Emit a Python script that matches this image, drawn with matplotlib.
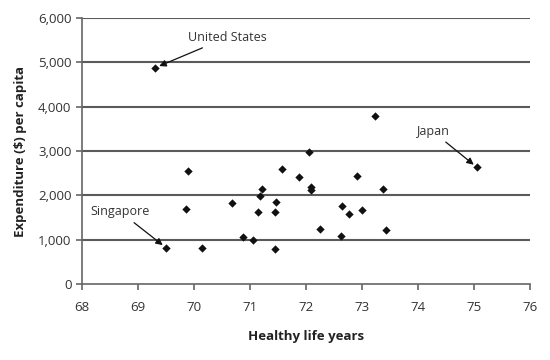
import matplotlib
matplotlib.use("Agg")
import matplotlib.pyplot as plt
from matplotlib.ticker import FuncFormatter

plt.rcParams['font.family'] = ['Open Sans', 'DejaVu Sans']

# Healthy life years vs expenditure per capita
life_years = [69.31, 69.50, 69.90, 69.85, 70.15, 70.68, 70.88, 71.06, 71.14, 71.18,
              71.21, 71.45, 71.46, 71.45, 71.57, 71.88, 72.05, 72.09, 72.08, 73.23,
              75.05, 72.91, 73.38, 72.65, 72.76, 72.99, 72.25, 72.63, 73.43]
expenditure = [4880, 819, 2542, 1699, 819, 1834, 1053, 993, 1632, 1985,
               2150, 1632, 1857, 790, 2594, 2414, 2985, 2181, 2120, 3782,
               2632, 2429, 2150, 1752, 1586, 1662, 1241, 1083, 1218]

labels = ["United States", "Singapore", "Japan"]
label_points = [(69.31, 4880), (69.50, 819), (75.05, 2632)]
label_text_pos = [(70.59, 5560), (68.68, 1632), (74.25, 3451)]

x_ticks = [68, 69, 70, 71, 72, 73, 74, 75, 76]
y_ticks = [0, 1000, 2000, 3000, 4000, 5000, 6000]

fig = plt.figure(figsize=(5.5, 3.6), dpi=100)
ax = fig.add_axes([0.149, 0.211, 0.815, 0.739])

ax.set_xlim(68, 76)
ax.set_ylim(0, 6000)
ax.set_xticks(x_ticks)
ax.set_yticks(y_ticks)
ax.yaxis.set_major_formatter(FuncFormatter(lambda v, p: f"{int(v):,}"))

for yv in y_ticks[1:]:
    ax.axhline(yv, color='#5a5a5a', lw=1.5, zorder=1)

ax.scatter(life_years, expenditure, marker='D', s=18, color='#111111', zorder=3, linewidths=0)

for lab, pt, tp in zip(labels, label_points, label_text_pos):
    ax.annotate(lab, xy=pt, xytext=tp, ha='center', va='center', fontsize=9,
                color='#333333',
                arrowprops=dict(arrowstyle='-|>', color='#111111', lw=0.9,
                                shrinkA=2, shrinkB=3, mutation_scale=10))

for s in ['top', 'right']:
    ax.spines[s].set_visible(False)
for s in ['left', 'bottom']:
    ax.spines[s].set_color('#666666')
    ax.spines[s].set_linewidth(1.2)

ax.tick_params(axis='both', colors='#666666', labelcolor='#333333', labelsize=9.5,
               length=4, width=1.2, direction='out')
ax.tick_params(axis='x', pad=8)

ax.set_xlabel("Healthy life years", fontsize=9.5, fontweight='bold', color='#222222', labelpad=12)
ax.set_ylabel("Expenditure ($) per capita", fontsize=9.5, fontweight='bold', color='#222222', labelpad=8)

fig.savefig("out.png", dpi=100)
